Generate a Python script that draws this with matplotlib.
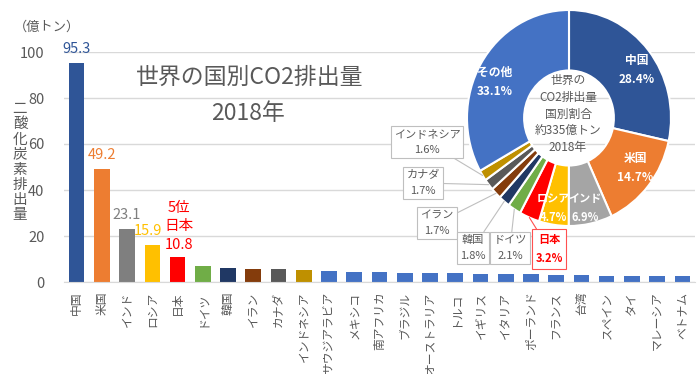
import numpy as np
import matplotlib
matplotlib.use('Agg')
import matplotlib.pyplot as plt

plt.rcParams['font.family'] = ['Noto Sans CJK JP', 'DejaVu Sans']

# bar data (億トン)
countries = ['中国', '米国', 'インド', 'ロシア', '日本', 'ドイツ', '韓国', 'イラン', 'カナダ',
             'インドネシア', 'サウジアラビア', 'メキシコ', '南アフリカ', 'ブラジル',
             'オーストラリア', 'トルコ', 'イギリス', 'イタリア', 'ポーランド', 'フランス',
             '台湾', 'スペイン', 'タイ', 'マレーシア', 'ベトナム']
emissions = [95.3, 49.2, 23.1, 15.9, 10.8, 7.0, 6.1, 5.8, 5.7, 5.4, 4.9, 4.5, 4.3, 4.1,
             3.9, 3.8, 3.6, 3.4, 3.4, 3.2, 2.9, 2.7, 2.6, 2.5, 2.5]
bar_colors = ['#2F5597', '#ED7D31', '#7F7F7F', '#FFC000', '#FF0000', '#70AD47', '#203864',
              '#843C0C', '#595959', '#BF9000'] + ['#4472C4'] * 15
labelled = [0, 1, 2, 3]
label_colors = ['#2F5597', '#ED7D31', '#7F7F7F', '#FFC000']

# pie data (%)
pie_names = ['中国', '米国', 'インド', 'ロシア', '日本', 'ドイツ', '韓国', 'イラン', 'カナダ',
             'インドネシア', 'その他']
pie_share = [28.4, 14.7, 6.9, 4.7, 3.2, 2.1, 1.8, 1.7, 1.7, 1.6, 33.1]
pie_colors = ['#2F5597', '#ED7D31', '#A5A5A5', '#FFC000', '#FF0000', '#70AD47', '#203864',
              '#843C0C', '#595959', '#BF9000', '#4472C4']

W, H = 700, 374
fig = plt.figure(figsize=(7, 3.74), dpi=100)

def fr(x0, y0, x1, y1):
    # pixel box -> figure fraction rect
    return [x0 / W, 1 - y1 / H, (x1 - x0) / W, (y1 - y0) / H]

gray = '#595959'
ax = fig.add_axes(fr(64, 52, 695, 282))
x = np.arange(len(countries))
ax.bar(x, emissions, width=0.62, color=bar_colors, zorder=2)
ax.set_xlim(-0.5, len(countries) - 0.5)
ax.set_ylim(0, 100)
ax.set_yticks(range(0, 101, 20))
ax.yaxis.grid(True, color='#D9D9D9', lw=1, zorder=0)
for s in ['top', 'right', 'left']:
    ax.spines[s].set_visible(False)
ax.spines['bottom'].set_color('#D9D9D9')
ax.set_xticks(x)
ax.set_xticklabels(countries, rotation=90, fontsize=8.5, color=gray)
ax.tick_params(axis='both', length=0)
ax.tick_params(axis='x', pad=7)
ax.tick_params(axis='y', labelsize=10.5, colors=gray, pad=14)

offs = [0, 0, 0, -3]
for i, c, dx in zip(labelled, label_colors, offs):
    ax.annotate(f'{emissions[i]:.1f}', (x[i], emissions[i]), xytext=(dx, 5),
                textcoords='offset points', ha='center', va='bottom', fontsize=10.5, color=c)
ax.annotate(f'5位\n日本\n{emissions[4]:.1f}', (x[4], emissions[4]), xytext=(1, 4),
            textcoords='offset points', ha='center', va='bottom', fontsize=10.5,
            color='#FF0000', linespacing=1.4)

fig.text(47 / W, 1 - 27 / H, '（億トン）', ha='center', va='center', fontsize=9.5, color=gray)
fig.text(20 / W, 1 - 162 / H, '\n'.join('二酸化炭素排出量'), ha='center', va='center',
         fontsize=10.5, color=gray, linespacing=1.1)
fig.text(250 / W, 1 - 77 / H, '世界の国別CO2排出量', ha='center', va='center',
         fontsize=16.5, color=gray)
fig.text(248 / W, 1 - 114 / H, '2018年', ha='center', va='center', fontsize=16.5, color=gray)

# pie / donut (slightly taller than wide, like the pasted picture)
cx, cy, Rx, Ry = 569, 118, 102, 108
px0, py0, px1, py1 = 383, 0, 678, 268
axp = fig.add_axes(fr(px0, py0, px1, py1))
axp.pie(pie_share, colors=pie_colors, startangle=90, counterclock=False, radius=1,
        wedgeprops=dict(width=0.56, edgecolor='white', linewidth=1.5))
axp.set_aspect('auto')
axp.set_xlim((px0 - cx) / Rx, (px1 - cx) / Rx)
axp.set_ylim((cy - py1) / Ry, (cy - py0) / Ry)
axp.set_xticks([])
axp.set_yticks([])
for s in axp.spines.values():
    s.set_visible(False)
axp.set_facecolor('white')
axp.patch.set_visible(True)

def pp(x, y):
    return ((x - cx) / Rx, (cy - y) / Ry)

axp.text(*pp(568, 114), '世界の\nCO2排出量\n国別割合\n約335億トン\n2018年', ha='center',
         va='center', fontsize=8.5, color=gray, linespacing=1.38)

# wedge mid angles
cum = np.cumsum([0] + pie_share)
tot = cum[-1]
mids = 90 - (cum[:-1] + np.array(pie_share) / 2) / tot * 360

callouts = {9: (427, 142), 8: (423, 183), 7: (437, 223), 6: (473, 248), 5: (510, 248),
            4: (549, 249)}
for i, (tx, ty) in callouts.items():
    a = np.deg2rad(mids[i])
    red = i == 4
    ec = '#FF5050' if red else '#BFBFBF'
    axp.annotate(f'{pie_names[i]}\n{pie_share[i]}%', xy=(np.cos(a), np.sin(a)),
                 xytext=pp(tx, ty), ha='center', va='center', fontsize=8,
                 color='#FF0000' if red else gray, fontweight='bold' if red else 'normal',
                 linespacing=1.7, annotation_clip=False,
                 bbox=dict(boxstyle='square,pad=0.28', fc='white', ec=ec, lw=0.8),
                 arrowprops=dict(arrowstyle='-', color=ec, lw=0.8, shrinkA=0, shrinkB=0))

inner = {0: (637, 70), 1: (635, 168), 2: (585, 208), 3: (553, 208), 10: (495, 82)}
for i, (tx, ty) in inner.items():
    fs = 8 if i in (2, 3) else 8.5
    axp.text(*pp(tx, ty), f'{pie_names[i]}\n{pie_share[i]}%', ha='center', va='center',
             fontsize=fs, color='white', fontweight='bold', linespacing=1.55, zorder=5)

fig.savefig('out.png', dpi=100)
